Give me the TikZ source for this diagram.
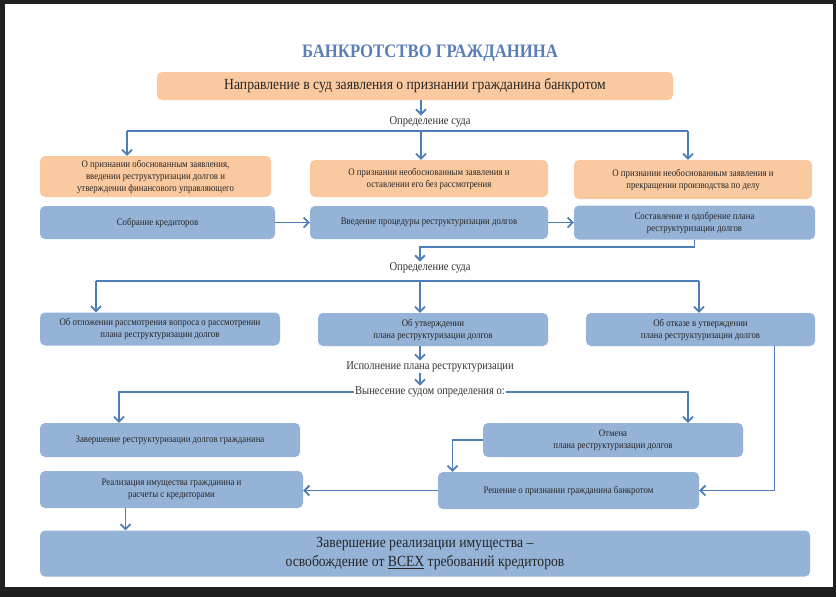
\documentclass[tikz,border=0pt]{standalone}
\usepackage{fontspec}
\setmainfont{Liberation Serif}[FakeStretch=0.88]
\usetikzlibrary{arrows.meta}
\definecolor{peach}{HTML}{FAC9A0}
\definecolor{steel}{HTML}{95B3D7}
\definecolor{wire}{HTML}{4F7DB8}
\definecolor{heading}{HTML}{5A7FB8}
\begin{document}
\begin{tikzpicture}[x=1pt,y=-1pt,
  peachbox/.style={fill=peach,rounded corners=5pt,align=center,inner sep=0pt,
    text=black!85,font=\fontsize{10}{12}\selectfont},
  steelbox/.style={peachbox,fill=steel},
  wireline/.style={draw=wire,line width=1.8pt},
  arr/.style={wireline,-{Straight Barb[length=5pt,width=10pt]}},
  courtlbl/.style={inner sep=1pt,text=black!80,font=\fontsize{12}{14}\selectfont}]

% frame
\useasboundingbox (0,0) rectangle (836,597);
\fill[black!88] (0,0) rectangle (836,597);
\fill[white] (5,4) rectangle (833,587);

% title
\node[text=heading,font=\bfseries\fontsize{19}{22}\selectfont] (title) at (430,53) {БАНКРОТСТВО ГРАЖДАНИНА};
\node[peachbox,minimum width=516,minimum height=28,font=\fontsize{15.5}{18}\selectfont] (top) at (415,86)
  {Направление в суд заявления о признании гражданина банкротом};

% first decision
\node[courtlbl] (lbl1) at (430,122) {Определение суда};
\node[peachbox,minimum width=231,minimum height=41] (o1) at (155.5,176.5)
  {О признании обоснованным заявления,\\ введении реструктуризации долгов и\\ утверждении финансового управляющего};
\node[peachbox,minimum width=238,minimum height=37] (o2) at (429,178.5)
  {О признании необоснованным заявления и\\ оставлении его без рассмотрения};
\node[peachbox,minimum width=238,minimum height=39] (o3) at (693,179.5)
  {О признании необоснованным заявления и\\ прекращении производства по делу};

% restructuring
\node[steelbox,minimum width=235,minimum height=33] (b1) at (157.5,222.5) {Собрание кредиторов};
\node[steelbox,minimum width=238,minimum height=33] (b2) at (429,222.5) {Введение процедуры реструктуризации долгов};
\node[steelbox,minimum width=241,minimum height=34] (b3) at (694.5,222.5)
  {Составление и одобрение плана\\ реструктуризации долгов};

% second decision
\node[courtlbl] (lbl2) at (430,268) {Определение суда};
\node[steelbox,minimum width=240,minimum height=33] (c1) at (160,329)
  {Об отложении рассмотрения вопроса о рассмотрении\\ плана реструктуризации долгов};
\node[steelbox,minimum width=230,minimum height=33] (c2) at (433,329.5)
  {Об утверждении\\ плана реструктуризации долгов};
\node[steelbox,minimum width=229,minimum height=33] (c3) at (700.5,329.5)
  {Об отказе в утверждении\\ плана реструктуризации долгов};

% execution
\node[courtlbl] (lbl3) at (430,367) {Исполнение плана реструктуризации};
\node[courtlbl] (lbl4) at (430,392) {Вынесение судом определения о:};
\node[steelbox,minimum width=260,minimum height=34] (d1) at (170,440) {Завершение реструктуризации долгов гражданина};
\node[steelbox,minimum width=260,minimum height=34] (d2) at (613,440)
  {Отмена\\ плана реструктуризации долгов};
\node[steelbox,minimum width=263,minimum height=37] (e1) at (171.5,489.5)
  {Реализация имущества гражданина и\\ расчеты с кредиторами};
\node[steelbox,minimum width=261,minimum height=37] (e2) at (568.5,490.5)
  {Решение о признании гражданина банкротом};
\node[steelbox,minimum width=770,minimum height=46,font=\fontsize{15.5}{19}\selectfont] (f) at (425,553.5)
  {Завершение реализации имущества –\\ освобождение от \underline{ВСЕХ} требований кредиторов};

% branch points
\coordinate (k1) at (421,131);
\coordinate (k2) at (420,281);

% connectors
\draw[arr] (top.south -| k1) -- (lbl1.north -| k1);
\draw[wireline] (k1) -- ++(-294,0) coordinate (k1l);
\draw[wireline] (k1) -- ++(267,0) coordinate (k1r);
\draw[arr] (k1l) -- (k1l |- o1.north);
\draw[arr] (k1) -- (k1 |- o2.north);
\draw[arr] (k1r) -- (k1r |- o3.north);
\draw[arr] (b1) -- (b2);
\draw[arr] (b2) -- (b3);
\draw[arr] (b3.south) -- ++(0,7) -| (lbl2.north -| k2);
\draw[wireline] (k2) -- ++(-324,0) coordinate (k2l);
\draw[wireline] (k2) -- ++(279,0) coordinate (k2r);
\draw[arr] (k2l) -- (k2l |- c1.north);
\draw[arr] (k2) -- (k2 |- c2.north);
\draw[arr] (k2r) -- (k2r |- c3.north);
\draw[arr] (c2.south -| k2) -- (lbl3.north -| k2);
\draw[arr] (lbl3.south -| k2) -- (lbl4.north -| k2);
\draw[arr] (lbl4.west) -| ([xshift=-51pt]d1.north);
\draw[arr] (lbl4.east) -| ([xshift=75pt]d2.north);
\draw[arr] (d2.west) -| ([xshift=-116pt]e2.north);
\draw[arr] ([xshift=74pt]c3.south) |- (e2.east);
\draw[arr] (e2.west) -- (e2.west -| e1.east);
\draw[arr] ([xshift=-46pt]e1.south) -- ([xshift=-46pt]e1.south |- f.north);

\end{tikzpicture}
\end{document}
